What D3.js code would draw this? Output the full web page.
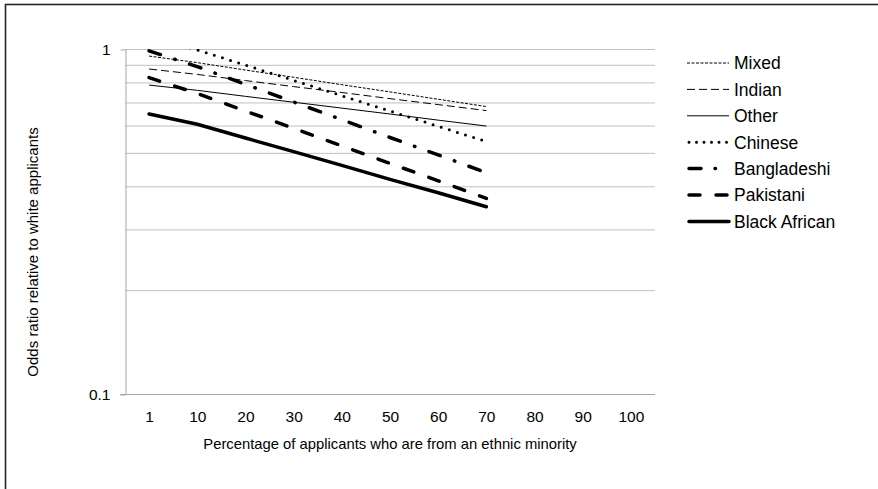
<!DOCTYPE html>
<html>
<head>
<meta charset="utf-8">
<script src="https://cdn.jsdelivr.net/npm/d3@7"></script>
<style>
  body { margin: 0; background: #fff; }
  text { font-family: "Liberation Sans", Arial, sans-serif; fill: #000; }
</style>
</head>
<body>
<div id="chart"></div>
<script>
// categories on the x axis (percentage of applicants from an ethnic minority)
var categories = ["1","10","20","30","40","50","60","70","80","90","100"]
var dataCategories = ["1","10","20","30","40","50","60","70"]

// odds ratios, one array per group
var mixed        = [0.954,0.913,0.869,0.828,0.788,0.751,0.715,0.681]
var indian       = [0.875,0.844,0.810,0.778,0.748,0.718,0.690,0.663]
var other        = [0.786,0.759,0.729,0.701,0.674,0.648,0.622,0.598]
var chinese      = [1.09,0.994,0.898,0.811,0.732,0.661,0.597,0.539]
var bangladeshi  = [0.988,0.889,0.790,0.702,0.624,0.554,0.493,0.438]
var pakistani    = [0.826,0.743,0.661,0.589,0.524,0.466,0.415,0.369]
var blackAfrican = [0.648,0.605,0.552,0.504,0.460,0.419,0.383,0.349]

var seriesNames = ["Mixed","Indian","Other","Chinese","Bangladeshi","Pakistani","Black African"]
var seriesValues = [mixed, indian, other, chinese, bangladeshi, pakistani, blackAfrican]

var yTicks = [0.1, 1]
var yGrid = [0.2,0.3,0.4,0.5,0.6,0.7,0.8,0.9,1]

// line styles for each group
var styles = [
  {w: 1,   dash: "3,1.5", cap: "butt"},
  {w: 1,   dash: "8,4",   cap: "butt"},
  {w: 1,   dash: null,    cap: "butt"},
  {w: 3,   dash: "0,8.5", cap: "round"},
  {w: 3.5, dash: "12,15,0.5,15", cap: "round"},
  {w: 3.5, dash: "11,16", cap: "round"},
  {w: 3.5, dash: null,    cap: "round"}
]

var chartW = 878, chartH = 489
var plotL = 125, plotR = 655, plotT = 49, plotB = 394

var svg = d3.select("#chart").append("svg")
  .attr("width", chartW)
  .attr("height", chartH)

// outer frame
svg.append("rect")
  .attr("x", 5.5).attr("y", 4.5)
  .attr("width", 900).attr("height", 600)
  .attr("fill", "none")
  .attr("stroke", "#262626")
  .attr("stroke-width", 1.6)

var x = d3.scalePoint().domain(categories).range([plotL, plotR]).padding(0.5)
var y = d3.scaleLog().domain([0.1, 1]).range([plotB, plotT])

// gridlines
svg.append("g").selectAll("line")
  .data(yGrid)
  .join("line")
  .attr("x1", plotL).attr("x2", plotR)
  .attr("y1", d => y(d) + 0.5).attr("y2", d => y(d) + 0.5)
  .attr("stroke", "#c0c0c0")
  .attr("stroke-width", 1)

// y axis
var yAxis = svg.append("g")
  .attr("transform", "translate(" + (plotL + 0.5) + ",0.5)")
  .call(d3.axisLeft(y).tickValues(yTicks).tickFormat(d => d).tickSize(5).tickSizeOuter(0))
yAxis.select(".domain").attr("stroke", "#a6a6a6")
yAxis.selectAll(".tick text")
  .attr("x", -15)
  .style("font-size", "15.5px")
  .style("font-family", "Liberation Sans, Arial, sans-serif")
  .attr("fill", "#000")
yAxis.selectAll(".tick line").attr("stroke", "#a6a6a6")

// x axis
var xAxis = svg.append("g")
  .attr("transform", "translate(0," + (plotB + 0.5) + ")")
  .call(d3.axisBottom(x).tickSize(0).tickSizeOuter(0).tickPadding(16))
xAxis.select(".domain").attr("d", "M" + (plotL - 5) + ",0H" + plotR).attr("stroke", "#a6a6a6")
xAxis.selectAll(".tick text")
  .style("font-size", "15.5px")
  .style("font-family", "Liberation Sans, Arial, sans-serif")
  .attr("fill", "#000")

// clip to the plot area
svg.append("clipPath").attr("id", "plot")
  .append("rect")
  .attr("x", plotL).attr("y", plotT)
  .attr("width", plotR - plotL).attr("height", plotB - plotT)

var line = d3.line()
  .x((d, i) => x(dataCategories[i]))
  .y(d => y(d))

var lines = svg.append("g").attr("clip-path", "url(#plot)")
seriesValues.forEach(function(vals, k) {
  var s = styles[k]
  lines.append("path")
    .datum(vals)
    .attr("d", line)
    .attr("fill", "none")
    .attr("stroke", "#000")
    .attr("stroke-width", s.w)
    .attr("stroke-linecap", s.cap)
    .attr("stroke-dasharray", s.dash)
})

// legend
var legend = svg.append("g")
seriesNames.forEach(function(name, k) {
  var s = styles[k]
  var ly = 63 + k * 26.4
  legend.append("line")
    .attr("x1", k >= 3 ? 689 : 687).attr("x2", 729)
    .attr("y1", ly).attr("y2", ly)
    .attr("stroke", "#000")
    .attr("stroke-width", s.w)
    .attr("stroke-linecap", s.cap)
    .attr("stroke-dasharray", k == 3 ? "0,7.5" : (k == 4 ? "12,14,0.5,30" : (k == 5 ? "11,16" : s.dash)))
  legend.append("text")
    .attr("x", 734)
    .attr("y", ly)
    .attr("dy", "0.36em")
    .style("font-size", "17.5px")
    .text(name)
})

// axis titles
svg.append("text")
  .attr("x", (plotL + plotR) / 2)
  .attr("y", 449)
  .attr("text-anchor", "middle")
  .style("font-size", "14.8px")
  .text("Percentage of applicants who are from an ethnic minority")

svg.append("text")
  .attr("transform", "translate(38,252) rotate(-90)")
  .attr("text-anchor", "middle")
  .style("font-size", "15px")
  .text("Odds ratio relative to white applicants")
</script>
</body>
</html>
